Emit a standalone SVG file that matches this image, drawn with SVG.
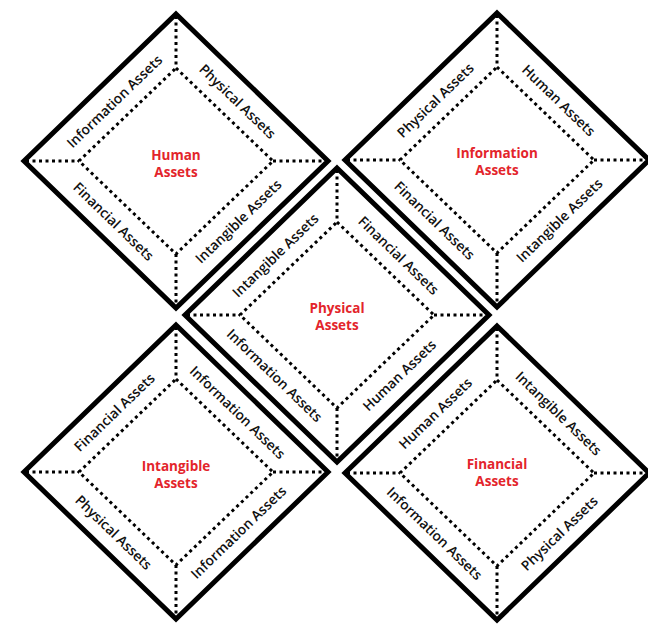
<svg xmlns="http://www.w3.org/2000/svg" xmlns:xlink="http://www.w3.org/1999/xlink" width="648" height="624" viewBox="0 0 648 624">
<style>
.outer{fill:#fff;stroke:#000;stroke-width:5;stroke-linejoin:miter}
.dot{fill:none;stroke:#000;stroke-width:3;stroke-dasharray:3 3.5}
.lbl{font-family:"Open Sans","Liberation Sans",sans-serif;font-weight:600;font-size:13.8px;fill:#111;text-anchor:middle;dominant-baseline:central}
.ctr{font-family:"Open Sans","Liberation Sans",sans-serif;font-weight:700;font-size:13.5px;fill:#e3242b;text-anchor:middle;dominant-baseline:central}
</style>
<defs>
<g id="frame">
<polygon class="outer" points="0,-147 152,0 0,147 -152,0"/>
<polygon class="dot" points="0,-93 97,0 0,93 -97,0"/>
<path class="dot" d="M0,-145V-93M0,93V145M-150,0H-97M97,0H150"/>
</g>
</defs>
<rect width="648" height="624" fill="#fff"/>
<g id="node-human" transform="translate(176,161)">
<use xlink:href="#frame"/>
<text class="lbl" transform="translate(-62,-60) rotate(-44)">Information Assets</text>
<text class="lbl" transform="translate(62,-60) rotate(44)">Physical Assets</text>
<text class="lbl" transform="translate(-62,60) rotate(44)">Financial Assets</text>
<text class="lbl" transform="translate(62,60) rotate(-44)">Intangible Assets</text>
<text class="ctr" y="-6">Human</text>
<text class="ctr" y="11">Assets</text>
</g>
<g id="node-information" transform="translate(497,160)">
<use xlink:href="#frame"/>
<text class="lbl" transform="translate(-62,-60) rotate(-44)">Physical Assets</text>
<text class="lbl" transform="translate(62,-60) rotate(44)">Human Assets</text>
<text class="lbl" transform="translate(-62,60) rotate(44)">Financial Assets</text>
<text class="lbl" transform="translate(62,60) rotate(-44)">Intangible Assets</text>
<text class="ctr" y="-7">Information</text>
<text class="ctr" y="10">Assets</text>
</g>
<g id="node-intangible" transform="translate(176,472)">
<use xlink:href="#frame"/>
<text class="lbl" transform="translate(-62,-60) rotate(-44)">Financial Assets</text>
<text class="lbl" transform="translate(62,-60) rotate(44)">Information Assets</text>
<text class="lbl" transform="translate(-62,60) rotate(44)">Physical Assets</text>
<text class="lbl" transform="translate(62,60) rotate(-44)">Information Assets</text>
<text class="ctr" y="-6">Intangible</text>
<text class="ctr" y="11">Assets</text>
</g>
<g id="node-financial" transform="translate(497,473)">
<use xlink:href="#frame"/>
<text class="lbl" transform="translate(-62,-60) rotate(-44)">Human Assets</text>
<text class="lbl" transform="translate(62,-60) rotate(44)">Intangible Assets</text>
<text class="lbl" transform="translate(-62,60) rotate(44)">Information Assets</text>
<text class="lbl" transform="translate(62,60) rotate(-44)">Physical Assets</text>
<text class="ctr" y="-9">Financial</text>
<text class="ctr" y="8">Assets</text>
</g>
<g id="node-physical" transform="translate(337,315)">
<use xlink:href="#frame"/>
<text class="lbl" transform="translate(-62,-60) rotate(-44)">Intangible Assets</text>
<text class="lbl" transform="translate(62,-60) rotate(44)">Financial Assets</text>
<text class="lbl" transform="translate(-62,60) rotate(44)">Information Assets</text>
<text class="lbl" transform="translate(62,60) rotate(-44)">Human Assets</text>
<text class="ctr" y="-7">Physical</text>
<text class="ctr" y="10">Assets</text>
</g>
<g id="connectors"/>
</svg>
